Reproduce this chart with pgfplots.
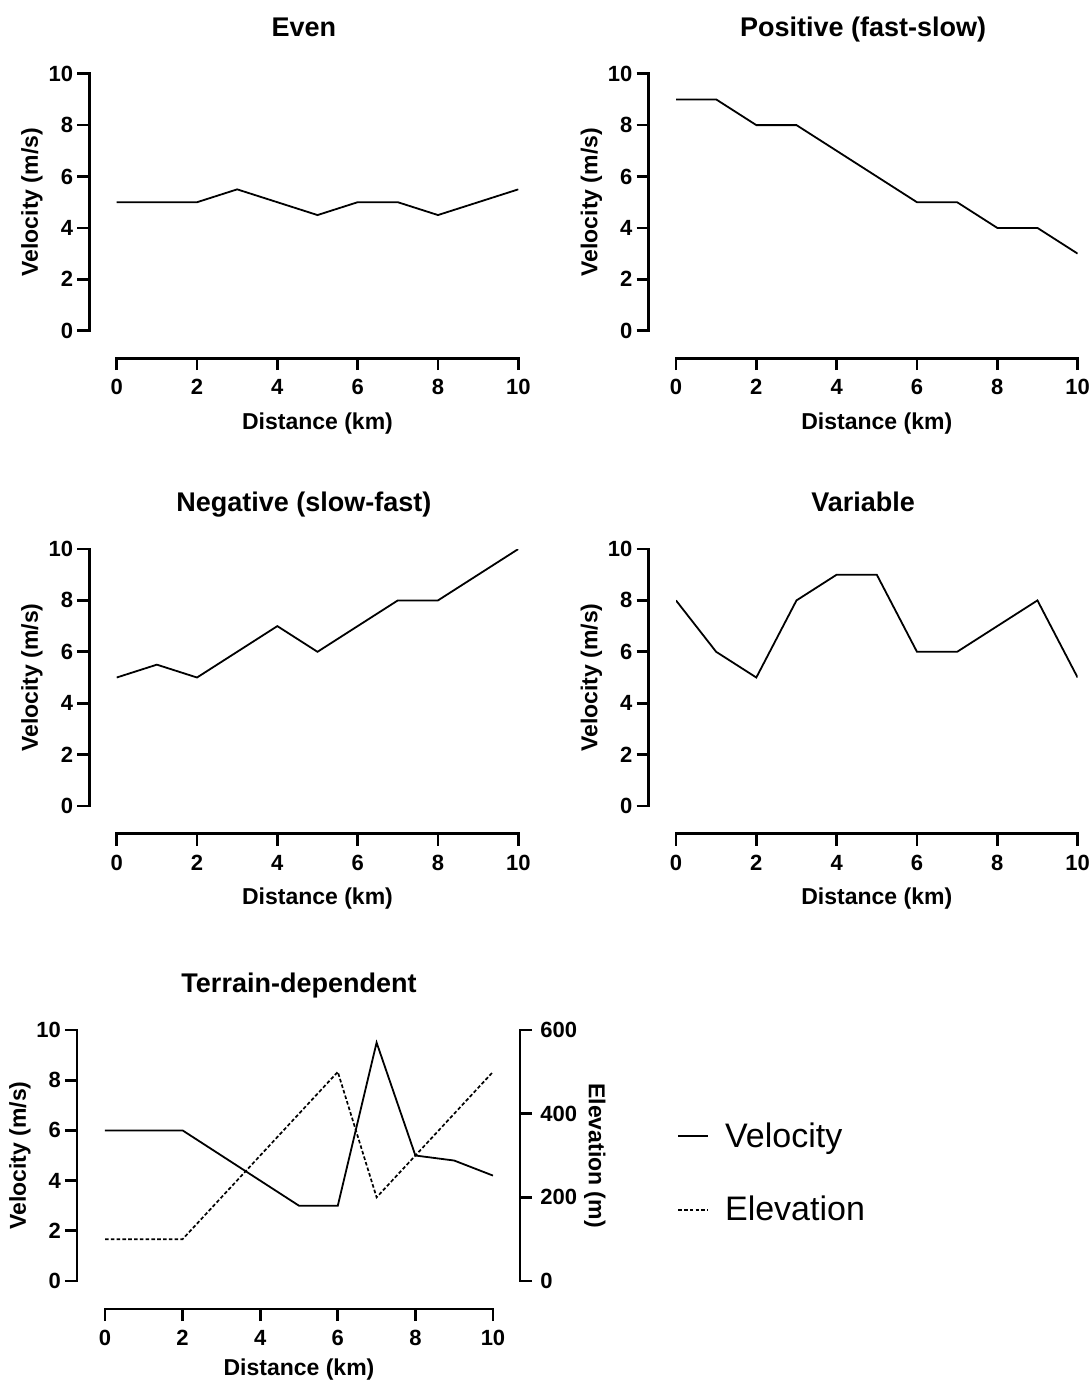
\documentclass[border=0pt]{standalone}
\usepackage{fontspec}
\setmainfont{Liberation Sans}
\setsansfont{Liberation Sans}
\usepackage{pgfplots}
\pgfplotsset{compat=1.18}

\newcommand\tickfont{\bfseries\fontsize{11}{12}\selectfont}
\newcommand\labelfont{\bfseries\fontsize{11.5}{13}\selectfont}
\newcommand\titlefont{\bfseries\fontsize{13.5}{16}\selectfont}

\pgfplotsset{
  prism/.style={
    scale only axis, width=200.8pt, height=128.5pt,
    xmin=0, xmax=10, ymin=0, ymax=10,
    axis x line=bottom, axis y line=left,
    axis line style={-, line width=1.35pt, line cap=rect},
    axis x line shift=13.75pt, axis y line shift=13.75pt,
    xtick={0,2,4,6,8,10}, ytick={0,2,4,6,8,10},
    tick align=outside, major tick length=6pt,
    tick style={black, line width=1.35pt},
    tick label style={font=\tickfont},
    /pgf/number format/assume math mode=true,
    xticklabel style={inner sep=0pt, yshift=-4.5pt},
    yticklabel style={inner sep=0pt, xshift=-1.85pt},
    xlabel={Distance (km)}, ylabel={Velocity (m/s)},
    label style={font=\labelfont},
    xlabel style={at={(0.5,-0.385)}, anchor=base},
    ylabel style={at={(-0.196,0.5)}, anchor=base},
    title style={at={(0.466,1.146)}, anchor=base, yshift=-6pt, font=\titlefont},
  },
  vel/.style={black, line width=0.9pt, no markers},
  elev/.style={black, line width=0.85pt, no markers, dash pattern=on 1.8pt off 1.1pt},
}

\begin{document}
\begin{tikzpicture}
\path[use as bounding box] (0,0) rectangle (546pt,-691.5pt);

% Even
\begin{axis}[prism, at={(58.35pt,-165.35pt)}, anchor=south west, title={Even}]
\addplot[vel] coordinates {
  (0,5) (1,5) (2,5) (3,5.5) (4,5) (5,4.5) (6,5) (7,5) (8,4.5) (9,5) (10,5.5)
};
\end{axis}

% Positive
\begin{axis}[prism, at={(338pt,-165.35pt)}, anchor=south west, title={Positive (fast-slow)}]
\addplot[vel] coordinates {
  (0,9) (1,9) (2,8) (3,8) (4,7) (5,6) (6,5) (7,5) (8,4) (9,4) (10,3)
};
\end{axis}

% Negative
\begin{axis}[prism, at={(58.35pt,-403pt)}, anchor=south west, title={Negative (slow-fast)}]
\addplot[vel] coordinates {
  (0,5) (1,5.5) (2,5) (3,6) (4,7) (5,6) (6,7) (7,8) (8,8) (9,9) (10,10)
};
\end{axis}

% Variable
\begin{axis}[prism, at={(338pt,-403pt)}, anchor=south west, title={Variable}]
\addplot[vel] coordinates {
  (0,8) (1,6) (2,5) (3,8) (4,9) (5,9) (6,6) (7,6) (8,7) (9,8) (10,5)
};
\end{axis}

% Terrain-dependent, velocity (left axis)
\begin{axis}[prism, at={(52.5pt,-640.5pt)}, anchor=south west,
  width=194pt, height=125.5pt,
  axis x line shift=14pt, axis y line shift=14pt,
  xlabel style={at={(0.5,-0.375)}},
  ylabel style={at={(-0.204,0.5)}},
  title style={at={(0.5,1.149)}},
  title={Terrain-dependent}]
\addplot[vel] coordinates {
  (0,6) (1,6) (2,6) (3,5) (4,4) (5,3) (6,3) (7,9.5) (8,5) (9,4.8) (10,4.2)
};
\end{axis}

% Terrain-dependent, elevation (right axis)
\begin{axis}[scale only axis, width=194pt, height=125.5pt,
  at={(52.5pt,-640.5pt)}, anchor=south west,
  xmin=0, xmax=10, ymin=0, ymax=600,
  axis x line=none, axis y line=right,
  axis line style={-, line width=1.35pt, line cap=rect},
  axis y line shift=13.5pt,
  ytick={0,200,400,600},
  tick align=outside, major tick length=6pt,
  tick style={black, line width=1.35pt},
  tick label style={font=\tickfont},
  /pgf/number format/assume math mode=true,
  yticklabel style={inner sep=0pt, xshift=4pt},
  ylabel={Elevation (m)},
  label style={font=\labelfont},
  ylabel style={at={(1.247,0.5)}, anchor=base, rotate=180},
  legend style={draw=none, fill=none, at={(1.474,0.43)}, anchor=west,
    font=\fontsize{17}{20}\selectfont, inner sep=0pt,
    row sep=19pt, column sep=6pt},
  legend cell align=left,
  legend image code/.code={\draw[#1] (0pt,0pt) -- (15pt,0pt);},
]
\addlegendimage{vel}
\addlegendentry{Velocity}
\addplot[elev] coordinates {
  (0,100) (1,100) (2,100) (3,200) (4,300) (5,400) (6,500) (7,200) (8,300) (9,400) (10,500)
};
\addlegendentry{Elevation}
\end{axis}
\end{tikzpicture}
\end{document}
